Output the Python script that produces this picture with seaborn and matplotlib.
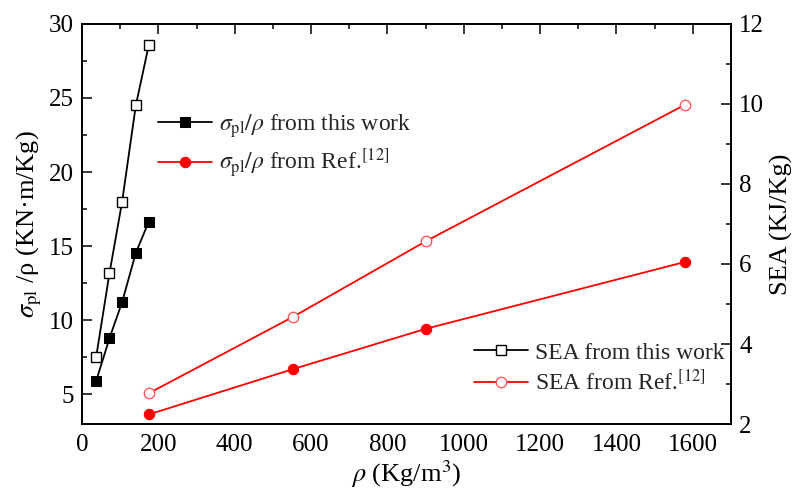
import matplotlib
matplotlib.use("Agg")
import matplotlib.pyplot as plt
from matplotlib.ticker import MultipleLocator
import seaborn as sns

# Density (Kg/m^3) of the samples
density_work = [37, 72, 105, 141, 175]
density_ref = [175, 553, 901, 1580]

# Specific plateau stress sigma_pl/rho (KN·m/Kg)
stress_work = [5.90, 8.79, 11.22, 14.55, 16.66]
stress_ref = [3.65, 6.71, 9.43, 13.94]

# Specific energy absorption (KJ/Kg)
sea_work = [3.67, 5.77, 7.55, 9.96, 11.47]
sea_ref = [2.77, 4.68, 6.57, 9.98]

sns.set_theme(style="white")
plt.rcParams["font.family"] = ["Liberation Serif", "DejaVu Serif"]
plt.rcParams["mathtext.fontset"] = "stix"

FS_TICK = 18
FS_LEG = 17
FS_LAB = 19
fig = plt.figure(figsize=(7.93, 4.96), dpi=100)
ax = fig.add_axes([0.1034, 0.145, 0.8184, 0.807])
ax2 = ax.twinx()

lw = 1.3
sns.lineplot(x=density_work, y=stress_work, ax=ax, color="black", marker="s",
             markersize=7.5, markeredgecolor="black", linewidth=lw, legend=False)
sns.lineplot(x=density_ref, y=stress_ref, ax=ax, color="red", marker="o",
             markersize=7.5, markeredgecolor="red", linewidth=lw, legend=False)
sns.lineplot(x=density_work, y=sea_work, ax=ax2, color="black", marker="s",
             markersize=7.5, markerfacecolor="white", markeredgecolor="black",
             markeredgewidth=1.0, linewidth=lw, legend=False)
sns.lineplot(x=density_ref, y=sea_ref, ax=ax2, color="red", marker="o",
             markersize=7.5, markerfacecolor="white", markeredgecolor="#ff5a5a",
             markeredgewidth=1.0, linewidth=lw, legend=False)

ax.set_xlim(0, 1700)
ax.set_ylim(3, 30)
ax2.set_ylim(2, 12)

ax.xaxis.set_major_locator(MultipleLocator(200))
ax.xaxis.set_minor_locator(MultipleLocator(100))
ax.yaxis.set_major_locator(MultipleLocator(5))
ax.yaxis.set_minor_locator(MultipleLocator(2.5))
ax2.yaxis.set_major_locator(MultipleLocator(2))
ax2.yaxis.set_minor_locator(MultipleLocator(1))

ax.tick_params(which="both", direction="in", top=True, right=False,
               labelsize=FS_TICK, colors="black")
ax.tick_params(axis="x", pad=7)
ax.tick_params(axis="y", pad=6)
ax.tick_params(which="major", length=7, width=1.1)
ax.tick_params(which="minor", length=3.5, width=1.1)
ax2.tick_params(which="both", direction="in", right=True, labelsize=FS_TICK,
                colors="black", pad=6)
ax2.tick_params(which="major", length=7, width=1.1)
ax2.tick_params(which="minor", length=3.5, width=1.1)

for a in (ax, ax2):
    for s in a.spines.values():
        s.set_color("black")
        s.set_linewidth(1.3)

ax.set_xlabel(r"$\rho$ (Kg/m$^3$)", fontsize=FS_LAB, color="black", labelpad=2)
ax.set_ylabel(r"$\sigma_{\rm pl}$ /ρ (KN·m/Kg)", fontsize=FS_LAB, color="black", labelpad=3)
ax2.set_ylabel("SEA (KJ/Kg)", fontsize=FS_LAB, color="black", labelpad=4)

h_stress_work, h_stress_ref = ax.lines[0], ax.lines[1]
h_sea_work, h_sea_ref = ax2.lines[0], ax2.lines[1]

leg1 = ax2.legend([h_stress_work, h_stress_ref],
                  [r"$\sigma_{\rm pl}/\rho$ from this work",
                   r"$\sigma_{\rm pl}/\rho$ from Ref.$^{[12]}$"],
                  loc="upper left", bbox_to_anchor=(0.117, 0.78),
                  frameon=False, fontsize=FS_LEG, handlelength=2.3,
                  handletextpad=0.3, borderpad=0, borderaxespad=0,
                  labelspacing=0.3, numpoints=1)
ax2.add_artist(leg1)
ax2.legend([h_sea_work, h_sea_ref],
           ["SEA from this work", r"SEA from Ref.$^{[12]}$"],
           loc="upper left", bbox_to_anchor=(0.604, 0.205),
           frameon=False, fontsize=FS_LEG, handlelength=2.3,
           handletextpad=0.3, borderpad=0, borderaxespad=0,
           labelspacing=0.25, numpoints=1)

fig.savefig("out.png", dpi=100, facecolor="white")
